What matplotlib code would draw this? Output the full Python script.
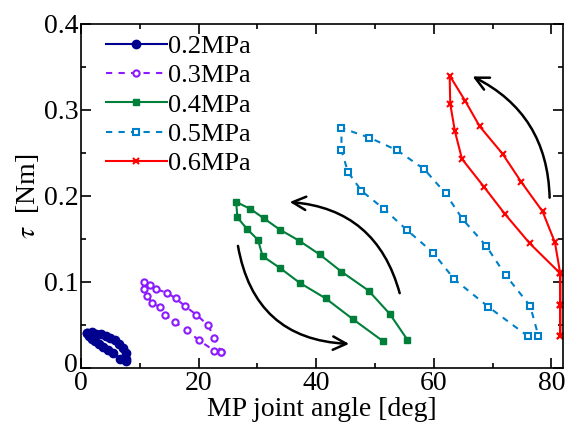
import matplotlib
matplotlib.use('Agg')
import matplotlib.pyplot as plt
import matplotlib.transforms as mtransforms
from matplotlib.ticker import MultipleLocator

plt.rcParams['font.family'] = ['Liberation Serif', 'DejaVu Serif']
plt.rcParams['mathtext.fontset'] = 'stix'

# Угол MP-сустава [deg] и момент [Nm] для каждого давления
angle_02 = [1.0, 1.8, 2.6, 3.4, 4.2, 5.0, 5.8, 6.5, 7.2, 7.6, 7.7, 7.7,
            6.6, 5.5, 4.6, 3.8, 3.0, 2.4, 1.8, 1.3, 1.0]
torque_02 = [0.041, 0.042, 0.040, 0.039, 0.037, 0.035, 0.032, 0.028, 0.023, 0.017, 0.011, 0.008,
             0.011, 0.017, 0.021, 0.024, 0.028, 0.031, 0.034, 0.037, 0.041]

angle_03 = [23.8, 22.7, 20.1, 18.0, 16.0, 14.3, 13.4, 12.0, 11.3, 10.7, 10.7, 11.8,
            12.8, 14.6, 16.1, 17.7, 19.6, 21.6, 22.7, 23.8]
torque_03 = [0.019, 0.020, 0.032, 0.044, 0.053, 0.062, 0.071, 0.076, 0.084, 0.0915, 0.100, 0.0965,
             0.0915, 0.0876, 0.081, 0.072, 0.062, 0.050, 0.0345, 0.019]

angle_04 = [51.4, 46.2, 41.6, 37.2, 33.9, 30.9, 30.1, 28.2, 26.6, 26.4,
            28.8, 31.1, 33.8, 37.1, 40.6, 44.3, 48.9, 52.5, 55.5]
torque_04 = [0.031, 0.057, 0.081, 0.099, 0.116, 0.130, 0.149, 0.162, 0.175, 0.193,
             0.185, 0.174, 0.161, 0.148, 0.132, 0.112, 0.090, 0.063, 0.033]

angle_05 = [76.0, 69.3, 63.5, 59.9, 55.5, 51.5, 47.7, 45.4, 44.3, 44.3,
            49.0, 53.8, 58.4, 62.0, 64.9, 68.9, 72.2, 76.4, 77.8]
torque_05 = [0.037, 0.071, 0.103, 0.134, 0.160, 0.185, 0.206, 0.228, 0.253, 0.279,
             0.268, 0.253, 0.231, 0.203, 0.173, 0.142, 0.108, 0.072, 0.037]

angle_06 = [81.5, 81.5, 81.5, 80.6, 78.5, 74.9, 71.7, 67.8, 65.3, 62.7,
            62.8, 63.6, 64.8, 68.6, 72.1, 76.3, 81.5, 81.5, 81.5]
torque_06 = [0.037, 0.073, 0.110, 0.146, 0.182, 0.216, 0.249, 0.281, 0.311, 0.340,
             0.307, 0.275, 0.243, 0.210, 0.179, 0.145, 0.110, 0.073, 0.037]

x_ticks = [0, 20, 40, 60, 80]
y_ticks = [0, 0.1, 0.2, 0.3, 0.4]
y_ticklabels = ['0', '0.1', '0.2', '0.3', '0.4']

fig = plt.figure(figsize=(5.7, 4.36), dpi=100)
ax = fig.add_axes([0.142, 0.156, 0.846, 0.789])

ax.plot(angle_02, torque_02, color='#00008f', lw=1.5, marker='o', ms=6, label='0.2MPa')
ax.plot(angle_03, torque_03, color='#8c1aff', lw=1.5, ls=(0, (3, 3)), marker='o', ms=4.5,
        mfc='white', mew=1.5, label='0.3MPa')
ax.plot(angle_04, torque_04, color='#007f3a', lw=1.5, marker='s', ms=5, label='0.4MPa')
ax.plot(angle_05, torque_05, color='#0080c8', lw=1.5, ls=(0, (3, 3)), marker='s', ms=4.5,
        mfc='white', mew=1.5, label='0.5MPa')
ax.plot(angle_06, torque_06, color='#ff0000', lw=1.5, marker='x', ms=5, mew=1.5, label='0.6MPa')

# Стрелки направления нагрузки / разгрузки
arrow = dict(arrowstyle='->', color='black', lw=1.8, mutation_scale=24, shrinkA=0, shrinkB=0)
ax.annotate('', xy=(45.6, 0.028), xytext=(26.7, 0.142),
            arrowprops=dict(arrow, connectionstyle='arc3,rad=0.4'))
ax.annotate('', xy=(35.5, 0.193), xytext=(54.2, 0.087),
            arrowprops=dict(arrow, connectionstyle='arc3,rad=0.35'))
ax.annotate('', xy=(66.6, 0.339), xytext=(79.7, 0.198),
            arrowprops=dict(arrow, connectionstyle='arc3,rad=0.3'))

ax.set_xlim(0, 82)
ax.set_ylim(0, 0.4)
ax.set_xticks(x_ticks)
ax.set_xticklabels([str(v) for v in x_ticks])
ax.set_yticks(y_ticks)
ax.set_yticklabels(y_ticklabels)
ax.xaxis.set_minor_locator(MultipleLocator(10))
ax.yaxis.set_minor_locator(MultipleLocator(0.05))
ax.tick_params(which='both', direction='in', top=True, right=True, labelsize=20, width=1.2)
ax.tick_params(which='major', length=7, pad=2)
ax.tick_params(which='minor', length=3.5)
for s in ax.spines.values():
    s.set_linewidth(1.2)

# подвинуть "0" по оси y чуть вверх, чтобы не налезал на "0" оси x
ax.get_yticklabels()[0].set_transform(
    ax.get_yticklabels()[0].get_transform()
    + mtransforms.ScaledTranslation(0, 4 / 72, fig.dpi_scale_trans))

ax.set_xlabel('MP joint angle [deg]', fontsize=20, labelpad=1)
ax.set_ylabel(r'$\tau$  [Nm]', fontsize=20, labelpad=2)

ax.legend(loc='upper left', frameon=False, fontsize=19, handlelength=2.3, handletextpad=0.05,
          labelspacing=0.22, borderaxespad=0.0, bbox_to_anchor=(0.03, 1.0))

fig.savefig('out.png', dpi=100)
